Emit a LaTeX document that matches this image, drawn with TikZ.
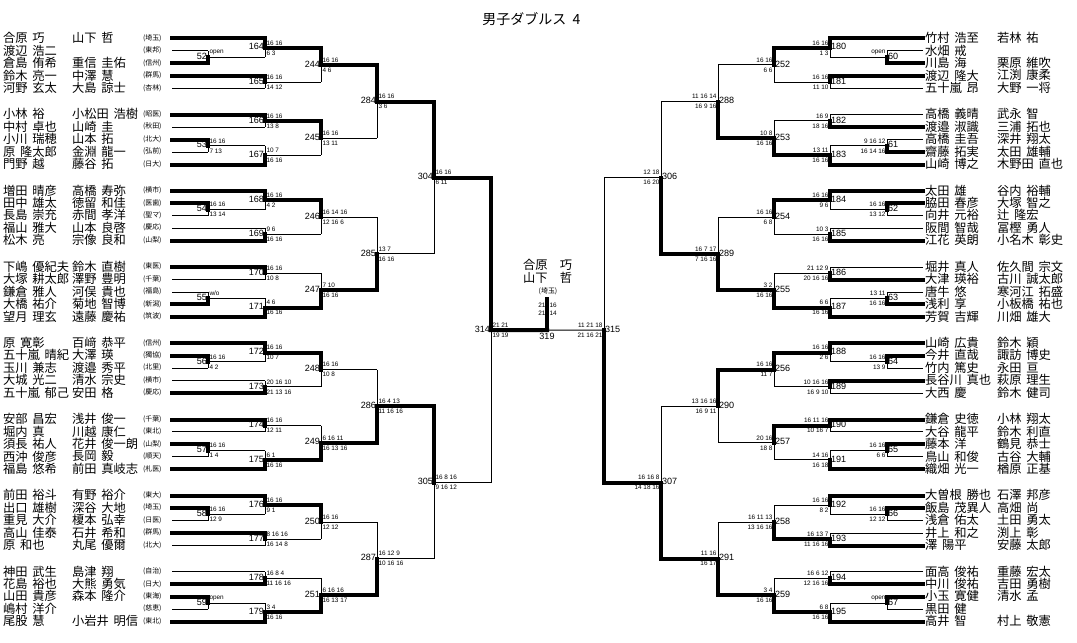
\documentclass[tikz,border=0pt]{standalone}
\usepackage{fontspec}
\setmainfont{Liberation Sans}
\newfontfamily\jpf{Noto Sans CJK JP}
\newfontfamily\scf{Liberation Sans}
\newcommand\gp{\hspace{0.4em}}
\newcommand\rh{12.45}
\tikzset{
 tn/.style={line width=0.75pt},
 tk/.style={line width=3pt,line cap=rect},
 nm/.style={font=\jpf\fontsize{9.2}{9.2}\selectfont,anchor=west,inner sep=0pt,outer sep=0pt},
 af/.style={font=\jpf\fontsize{5.2}{5.2}\selectfont,anchor=west,inner sep=0pt,outer sep=0pt},
 sc/.style={font=\scf\fontsize{4.8}{4.8}\selectfont,inner sep=0pt,outer sep=0pt},
 lab/.style={font=\scf\fontsize{6.8}{6.8}\selectfont,inner sep=0pt,outer sep=0pt},
}
% left match: x, xa, ya, xb, yb, winner, label, top, bottom
\newcommand\mtL[9]{%
 \pgfmathsetmacro\ya{#3}%
 \pgfmathsetmacro\yb{#5}%
 \pgfmathsetmacro\ym{(\ya+\yb)/2}%
 \ifnum#6=1
   \draw[tn] (#4,\yb) -- (#1,\yb);
   \draw[tn] (#1,\ya) -- (#1,\yb);
   \draw[tk] (#2,\ya) -- (#1,\ya);
   \draw[tk] (#1,\ya) -- (#1,\ym);
 \else
   \draw[tn] (#2,\ya) -- (#1,\ya);
   \draw[tn] (#1,\ya) -- (#1,\yb);
   \draw[tk] (#4,\yb) -- (#1,\yb);
   \draw[tk] (#1,\yb) -- (#1,\ym);
 \fi
 \coordinate (c#7) at (#1,\ym);
 \node[lab,anchor=east] (m#7) at (#1-1,\ym-1) {#7};
 \node[sc,anchor=west] (m#7t) at (#1+1.5,\ym-5) {#8};
 \node[sc,anchor=west] (m#7b) at (#1+1.5,\ym+5) {#9};
}
\newcommand\mtR[9]{%
 \pgfmathsetmacro\ya{#3}%
 \pgfmathsetmacro\yb{#5}%
 \pgfmathsetmacro\ym{(\ya+\yb)/2}%
 \ifnum#6=1
   \draw[tn] (#4,\yb) -- (#1,\yb);
   \draw[tn] (#1,\ya) -- (#1,\yb);
   \draw[tk] (#2,\ya) -- (#1,\ya);
   \draw[tk] (#1,\ya) -- (#1,\ym);
 \else
   \draw[tn] (#2,\ya) -- (#1,\ya);
   \draw[tn] (#1,\ya) -- (#1,\yb);
   \draw[tk] (#4,\yb) -- (#1,\yb);
   \draw[tk] (#1,\yb) -- (#1,\ym);
 \fi
 \coordinate (c#7) at (#1,\ym);
 \node[lab,anchor=west] (m#7) at (#1+1,\ym-1) {#7};
 \node[sc,anchor=east] (m#7t) at (#1-1.5,\ym-5) {#8};
 \node[sc,anchor=east] (m#7b) at (#1-1.5,\ym+5) {#9};
}
\newcommand\nmL[5]{%
 \pgfmathsetmacro\yy{38.5+76.2*#1+\rh*#2-0.5}%
 \node[nm] (nl#1#2) at (3,\yy) {#3};
 \node[nm] (pl#1#2) at (72,\yy) {#4};
 \node[af] (al#1#2) at (143,\yy) {(#5)};
}
\newcommand\nmR[4]{%
 \pgfmathsetmacro\yy{38.5+76.2*#1+\rh*#2-0.5}%
 \node[nm] (nr#1#2) at (925,\yy) {#3};
 \node[nm] (pr#1#2) at (997,\yy) {#4};
}
\begin{document}
\begin{tikzpicture}[x=0.75pt,y=-0.75pt]
\fill[white] (0,0) rectangle (1077,642);
\useasboundingbox (0,0) rectangle (1077,642);
\node[font=\jpf\fontsize{10.5}{10.5}\selectfont,anchor=west,inner sep=0pt] (title) at (482,19) {男子ダブルス\hspace{0.45em}4};

% ---------------- left names
\nmL{0}{0}{合原\gp 巧}{山下\gp 哲}{埼玉}
\nmL{0}{1}{渡辺\gp 浩二}{}{東邦}
\nmL{0}{2}{倉島\gp 侑希}{重信\gp 圭佑}{信州}
\nmL{0}{3}{鈴木\gp 亮一}{中澤\gp 慧}{群馬}
\nmL{0}{4}{河野\gp 玄太}{大島\gp 諒士}{杏林}
\nmL{1}{0}{小林\gp 裕}{小松田\gp 浩樹}{昭医}
\nmL{1}{1}{中村\gp 卓也}{山崎\gp 圭}{秋田}
\nmL{1}{2}{小川\gp 瑞穂}{山本\gp 拓}{北大}
\nmL{1}{3}{原\gp 隆太郎}{金淵\gp 龍一}{弘前}
\nmL{1}{4}{門野\gp 越}{藤谷\gp 拓}{日大}
\nmL{2}{0}{増田\gp 晴彦}{高橋\gp 寿弥}{横市}
\nmL{2}{1}{田中\gp 雄太}{徳留\gp 和佳}{医歯}
\nmL{2}{2}{長島\gp 崇充}{赤間\gp 孝洋}{聖マ}
\nmL{2}{3}{福山\gp 雅大}{山本\gp 良啓}{慶応}
\nmL{2}{4}{松木\gp 亮}{宗像\gp 良和}{山梨}
\nmL{3}{0}{下嶋\gp 優紀夫}{鈴木\gp 直樹}{東医}
\nmL{3}{1}{大塚\gp 耕太郎}{澤野\gp 豊明}{千葉}
\nmL{3}{2}{鎌倉\gp 雅人}{河俣\gp 貴也}{福島}
\nmL{3}{3}{大橋\gp 祐介}{菊地\gp 智博}{新潟}
\nmL{3}{4}{望月\gp 理玄}{遠藤\gp 慶祐}{筑波}
\nmL{4}{0}{原\gp 寛彰}{百﨑\gp 恭平}{信州}
\nmL{4}{1}{五十嵐\gp 晴紀}{大澤\gp 瑛}{獨協}
\nmL{4}{2}{玉川\gp 兼志}{渡邉\gp 秀平}{北里}
\nmL{4}{3}{大城\gp 光二}{清水\gp 宗史}{横市}
\nmL{4}{4}{五十嵐\gp 郁己}{安田\gp 格}{慶応}
\nmL{5}{0}{安部\gp 昌宏}{浅井\gp 俊一}{千葉}
\nmL{5}{1}{堀内\gp 真}{川越\gp 康仁}{東北}
\nmL{5}{2}{須長\gp 祐人}{花井\gp 俊一朗}{山梨}
\nmL{5}{3}{西沖\gp 俊彦}{長岡\gp 毅}{順天}
\nmL{5}{4}{福島\gp 悠希}{前田\gp 真岐志}{札医}
\nmL{6}{0}{前田\gp 裕斗}{有野\gp 裕介}{東大}
\nmL{6}{1}{出口\gp 雄樹}{深谷\gp 大地}{埼玉}
\nmL{6}{2}{重見\gp 大介}{榎本\gp 弘幸}{日医}
\nmL{6}{3}{高山\gp 佳泰}{石井\gp 希和}{群馬}
\nmL{6}{4}{原\gp 和也}{丸尾\gp 優爾}{北大}
\nmL{7}{0}{神田\gp 武生}{島津\gp 翔}{自治}
\nmL{7}{1}{花島\gp 裕也}{大熊\gp 勇気}{日大}
\nmL{7}{2}{山田\gp 貴彦}{森本\gp 隆介}{東海}
\nmL{7}{3}{嶋村\gp 洋介}{}{慈恵}
\nmL{7}{4}{尾股\gp 慧}{小岩井\gp 明信}{東北}

% ---------------- right names
\nmR{0}{0}{竹村\gp 浩至}{若林\gp 祐}
\nmR{0}{1}{水畑\gp 戒}{}
\nmR{0}{2}{川島\gp 海}{栗原\gp 維吹}
\nmR{0}{3}{渡辺\gp 隆大}{江渕\gp 康柔}
\nmR{0}{4}{五十嵐\gp 昂}{大野\gp 一将}
\nmR{1}{0}{高橋\gp 義晴}{武永\gp 智}
\nmR{1}{1}{渡邉\gp 淑識}{三浦\gp 拓也}
\nmR{1}{2}{高橋\gp 圭吾}{深井\gp 翔太}
\nmR{1}{3}{齋藤\gp 拓実}{太田\gp 雄輔}
\nmR{1}{4}{山崎\gp 博之}{木野田\gp 直也}
\nmR{2}{0}{太田\gp 雄}{谷内\gp 裕輔}
\nmR{2}{1}{脇田\gp 春彦}{大塚\gp 智之}
\nmR{2}{2}{向井\gp 元裕}{辻\gp 隆宏}
\nmR{2}{3}{阪間\gp 智哉}{冨樫\gp 勇人}
\nmR{2}{4}{江花\gp 英朗}{小名木\gp 彰史}
\nmR{3}{0}{堀井\gp 真人}{佐久間\gp 宗文}
\nmR{3}{1}{大津\gp 瑛裕}{古川\gp 誠太郎}
\nmR{3}{2}{唐牛\gp 悠}{寒河江\gp 拓盛}
\nmR{3}{3}{浅利\gp 享}{小板橋\gp 祐也}
\nmR{3}{4}{芳賀\gp 吉輝}{川畑\gp 雄大}
\nmR{4}{0}{山崎\gp 広貴}{鈴木\gp 穎}
\nmR{4}{1}{今井\gp 直哉}{諏訪\gp 博史}
\nmR{4}{2}{竹内\gp 篤史}{永田\gp 亘}
\nmR{4}{3}{長谷川\gp 真也}{萩原\gp 理生}
\nmR{4}{4}{大西\gp 慶}{鈴木\gp 健司}
\nmR{5}{0}{鎌倉\gp 史徳}{小林\gp 翔太}
\nmR{5}{1}{大谷\gp 龍平}{鈴木\gp 利直}
\nmR{5}{2}{藤本\gp 洋}{鶴見\gp 恭士}
\nmR{5}{3}{鳥山\gp 和俊}{古谷\gp 大輔}
\nmR{5}{4}{織畑\gp 光一}{楢原\gp 正基}
\nmR{6}{0}{大曽根\gp 勝也}{石澤\gp 邦彦}
\nmR{6}{1}{飯島\gp 茂異人}{高畑\gp 尚}
\nmR{6}{2}{浅倉\gp 佑太}{土田\gp 勇太}
\nmR{6}{3}{井上\gp 和之}{渕上\gp 彰}
\nmR{6}{4}{澤\gp 陽平}{安藤\gp 太郎}
\nmR{7}{0}{面高\gp 俊祐}{重藤\gp 宏太}
\nmR{7}{1}{中川\gp 俊祐}{吉田\gp 勇樹}
\nmR{7}{2}{小玉\gp 寛健}{清水\gp 孟}
\nmR{7}{3}{黒田\gp 健}{}
\nmR{7}{4}{高井\gp 智}{村上\gp 敬憲}

% ================= LEFT BRACKET
% G0 (T)
\pgfmathsetmacro\gtop{38.5}
\mtL{208}{172}{\gtop+\rh}{172}{\gtop+2*\rh}{2}{52}{open}{}
\mtL{265}{172}{\gtop}{208}{\gtop+1.5*\rh}{1}{164}{16 16}{6 3}
\mtL{265}{172}{\gtop+3*\rh}{172}{\gtop+4*\rh}{1}{165}{16 16}{14 12}
\mtL{321}{265}{\gtop+0.75*\rh}{265}{\gtop+3.5*\rh}{1}{244}{16 16}{4 6}
% G1 (B)
\pgfmathsetmacro\gtop{114.7}
\mtL{265}{172}{\gtop}{172}{\gtop+\rh}{1}{166}{16 16}{13 8}
\mtL{208}{172}{\gtop+2*\rh}{172}{\gtop+3*\rh}{1}{53}{16 16}{7 13}
\mtL{265}{208}{\gtop+2.5*\rh}{172}{\gtop+4*\rh}{2}{167}{10 7}{16 16}
\mtL{321}{265}{\gtop+0.5*\rh}{265}{\gtop+3.25*\rh}{1}{245}{16 16}{13 11}
% G2 (T)
\pgfmathsetmacro\gtop{190.9}
\mtL{208}{172}{\gtop+\rh}{172}{\gtop+2*\rh}{1}{54}{16 16}{13 14}
\mtL{265}{172}{\gtop}{208}{\gtop+1.5*\rh}{1}{168}{16 16}{4 2}
\mtL{265}{172}{\gtop+3*\rh}{172}{\gtop+4*\rh}{2}{169}{9 6}{16 16}
\mtL{321}{265}{\gtop+0.75*\rh}{265}{\gtop+3.5*\rh}{1}{246}{16 14 16}{12 16 6}
% G3 (B)
\pgfmathsetmacro\gtop{267.1}
\mtL{265}{172}{\gtop}{172}{\gtop+\rh}{1}{170}{16 16}{10 8}
\mtL{208}{172}{\gtop+2*\rh}{172}{\gtop+3*\rh}{2}{55}{w/o}{}
\mtL{265}{208}{\gtop+2.5*\rh}{172}{\gtop+4*\rh}{2}{171}{4 6}{16 16}
\mtL{321}{265}{\gtop+0.5*\rh}{265}{\gtop+3.25*\rh}{2}{247}{7 10}{16 16}
% G4 (T)
\pgfmathsetmacro\gtop{343.3}
\mtL{208}{172}{\gtop+\rh}{172}{\gtop+2*\rh}{1}{56}{16 16}{4 2}
\mtL{265}{172}{\gtop}{208}{\gtop+1.5*\rh}{1}{172}{16 16}{10 7}
\mtL{265}{172}{\gtop+3*\rh}{172}{\gtop+4*\rh}{2}{173}{20 16 10}{21 13 16}
\mtL{321}{265}{\gtop+0.75*\rh}{265}{\gtop+3.5*\rh}{1}{248}{16 16}{10 8}
% G5 (B)
\pgfmathsetmacro\gtop{419.5}
\mtL{265}{172}{\gtop}{172}{\gtop+\rh}{1}{174}{16 16}{12 11}
\mtL{208}{172}{\gtop+2*\rh}{172}{\gtop+3*\rh}{1}{57}{16 16}{1 4}
\mtL{265}{208}{\gtop+2.5*\rh}{172}{\gtop+4*\rh}{2}{175}{6 1}{16 16}
\mtL{321}{265}{\gtop+0.5*\rh}{265}{\gtop+3.25*\rh}{2}{249}{6 16 11}{16 13 16}
% G6 (T)
\pgfmathsetmacro\gtop{495.7}
\mtL{208}{172}{\gtop+\rh}{172}{\gtop+2*\rh}{1}{58}{16 16}{12 9}
\mtL{265}{172}{\gtop}{208}{\gtop+1.5*\rh}{1}{176}{16 16}{9 1}
\mtL{265}{172}{\gtop+3*\rh}{172}{\gtop+4*\rh}{1}{177}{8 16 16}{16 14 8}
\mtL{321}{265}{\gtop+0.75*\rh}{265}{\gtop+3.5*\rh}{1}{250}{16 16}{12 12}
% G7 (B)
\pgfmathsetmacro\gtop{571.9}
\mtL{265}{172}{\gtop}{172}{\gtop+\rh}{2}{178}{16 8 4}{11 16 16}
\mtL{208}{172}{\gtop+2*\rh}{172}{\gtop+3*\rh}{1}{59}{open}{}
\mtL{265}{208}{\gtop+2.5*\rh}{172}{\gtop+4*\rh}{2}{179}{3 4}{16 16}
\mtL{321}{265}{\gtop+0.5*\rh}{265}{\gtop+3.25*\rh}{2}{251}{6 16 16}{16 13 17}
% R3
\mtL{377}{321}{38.5+2.125*\rh}{321}{114.7+1.875*\rh}{1}{284}{16 16}{3 6}
\mtL{377}{321}{190.9+2.125*\rh}{321}{267.1+1.875*\rh}{2}{285}{13 7}{16 16}
\mtL{377}{321}{343.3+2.125*\rh}{321}{419.5+1.875*\rh}{2}{286}{16 4 13}{11 16 16}
\mtL{377}{321}{495.7+2.125*\rh}{321}{571.9+1.875*\rh}{2}{287}{16 12 9}{10 16 16}
% R4
\mtL{434}{377}{38.5+38.1+2*\rh}{377}{190.9+38.1+2*\rh}{1}{304}{16 16}{6 11}
\mtL{434}{377}{343.3+38.1+2*\rh}{377}{495.7+38.1+2*\rh}{1}{305}{16 8 16}{9 16 12}
% SF
\mtL{491}{434}{38.5+114.3+2*\rh}{434}{343.3+114.3+2*\rh}{1}{314}{21 21}{19 19}

% ================= RIGHT BRACKET
% RG0 (T)
\pgfmathsetmacro\gtop{38.5}
\mtR{887}{923}{\gtop+\rh}{923}{\gtop+2*\rh}{2}{60}{open}{}
\mtR{830}{923}{\gtop}{887}{\gtop+1.5*\rh}{1}{180}{16 16}{1 3}
\mtR{830}{923}{\gtop+3*\rh}{923}{\gtop+4*\rh}{1}{181}{16 16}{11 10}
\mtR{774}{830}{\gtop+0.75*\rh}{830}{\gtop+3.5*\rh}{1}{252}{16 16}{6 6}
% RG1 (B)
\pgfmathsetmacro\gtop{114.7}
\mtR{830}{923}{\gtop}{923}{\gtop+\rh}{2}{182}{16 9}{18 16}
\mtR{887}{923}{\gtop+2*\rh}{923}{\gtop+3*\rh}{2}{61}{9 16 12}{16 14 16}
\mtR{830}{887}{\gtop+2.5*\rh}{923}{\gtop+4*\rh}{2}{183}{13 11}{16 16}
\mtR{774}{830}{\gtop+0.5*\rh}{830}{\gtop+3.25*\rh}{2}{253}{10 8}{16 16}
% RG2 (T)
\pgfmathsetmacro\gtop{190.9}
\mtR{887}{923}{\gtop+\rh}{923}{\gtop+2*\rh}{1}{62}{16 16}{13 12}
\mtR{830}{923}{\gtop}{887}{\gtop+1.5*\rh}{1}{184}{16 16}{9 6}
\mtR{830}{923}{\gtop+3*\rh}{923}{\gtop+4*\rh}{2}{185}{10 3}{16 16}
\mtR{774}{830}{\gtop+0.75*\rh}{830}{\gtop+3.5*\rh}{1}{254}{16 16}{6 8}
% RG3 (B)
\pgfmathsetmacro\gtop{267.1}
\mtR{830}{923}{\gtop}{923}{\gtop+\rh}{2}{186}{21 12 9}{20 16 16}
\mtR{887}{923}{\gtop+2*\rh}{923}{\gtop+3*\rh}{2}{63}{13 11}{16 16}
\mtR{830}{887}{\gtop+2.5*\rh}{923}{\gtop+4*\rh}{2}{187}{6 6}{16 16}
\mtR{774}{830}{\gtop+0.5*\rh}{830}{\gtop+3.25*\rh}{2}{255}{3 2}{16 16}
% RG4 (T)
\pgfmathsetmacro\gtop{343.3}
\mtR{887}{923}{\gtop+\rh}{923}{\gtop+2*\rh}{1}{64}{16 16}{13 9}
\mtR{830}{923}{\gtop}{887}{\gtop+1.5*\rh}{1}{188}{16 16}{2 6}
\mtR{830}{923}{\gtop+3*\rh}{923}{\gtop+4*\rh}{1}{189}{10 16 16}{16 9 10}
\mtR{774}{830}{\gtop+0.75*\rh}{830}{\gtop+3.5*\rh}{1}{256}{16 16}{11 7}
% RG5 (B)
\pgfmathsetmacro\gtop{419.5}
\mtR{830}{923}{\gtop}{923}{\gtop+\rh}{1}{190}{16 11 16}{10 16 7}
\mtR{887}{923}{\gtop+2*\rh}{923}{\gtop+3*\rh}{1}{65}{16 16}{6 6}
\mtR{830}{887}{\gtop+2.5*\rh}{923}{\gtop+4*\rh}{2}{191}{14 16}{16 18}
\mtR{774}{830}{\gtop+0.5*\rh}{830}{\gtop+3.25*\rh}{1}{257}{20 16}{18 8}
% RG6 (T)
\pgfmathsetmacro\gtop{495.7}
\mtR{887}{923}{\gtop+\rh}{923}{\gtop+2*\rh}{1}{66}{16 16}{12 12}
\mtR{830}{923}{\gtop}{887}{\gtop+1.5*\rh}{1}{192}{16 16}{8 2}
\mtR{830}{923}{\gtop+3*\rh}{923}{\gtop+4*\rh}{2}{193}{16 13 7}{11 16 16}
\mtR{774}{830}{\gtop+0.75*\rh}{830}{\gtop+3.5*\rh}{2}{258}{16 11 13}{13 16 16}
% RG7 (B)
\pgfmathsetmacro\gtop{571.9}
\mtR{830}{923}{\gtop}{923}{\gtop+\rh}{2}{194}{16 6 12}{12 16 16}
\mtR{887}{923}{\gtop+2*\rh}{923}{\gtop+3*\rh}{1}{67}{open}{}
\mtR{830}{887}{\gtop+2.5*\rh}{923}{\gtop+4*\rh}{2}{195}{6 8}{16 16}
\mtR{774}{830}{\gtop+0.5*\rh}{830}{\gtop+3.25*\rh}{2}{259}{3 4}{16 16}
% R3
\mtR{718}{774}{38.5+2.125*\rh}{774}{114.7+1.875*\rh}{2}{288}{11 16 14}{16 9 16}
\mtR{718}{774}{190.9+2.125*\rh}{774}{267.1+1.875*\rh}{2}{289}{16 7 17}{7 16 16}
\mtR{718}{774}{343.3+2.125*\rh}{774}{419.5+1.875*\rh}{1}{290}{13 16 16}{16 9 11}
\mtR{718}{774}{495.7+2.125*\rh}{774}{571.9+1.875*\rh}{2}{291}{11 16}{16 17}
% R4
\mtR{661}{718}{38.5+38.1+2*\rh}{718}{190.9+38.1+2*\rh}{2}{306}{12 18}{16 20}
\mtR{661}{718}{343.3+38.1+2*\rh}{718}{495.7+38.1+2*\rh}{2}{307}{16 16 8}{14 18 16}
% SF
\mtR{604}{661}{38.5+114.3+2*\rh}{661}{343.3+114.3+2*\rh}{2}{315}{11 21 18}{21 16 21}

% ================= FINAL
\coordinate (f319) at (547,330.1);
\draw[tn] (c315) -- (f319);
\draw[tk] (c314) -- (f319);
\draw[tk] (f319) -- ++(0,-31) coordinate (champ);
\node[lab,anchor=north] (m319) at (547,333.5) {319};
\node[sc,anchor=east] (fs1a) at (545.5,305) {21};
\node[sc,anchor=west] (fs1b) at (549.5,305) {16};
\node[sc,anchor=east] (fs2a) at (545.5,313) {21};
\node[sc,anchor=west] (fs2b) at (549.5,313) {14};
\node[nm] (ch1) at (523,265) {合原\hspace{1em}巧};
\node[nm] (ch2) at (523,278) {山下\hspace{1em}哲};
\node[af,anchor=center] (ch3) at (548,291) {(埼玉)};
\end{tikzpicture}
\end{document}
